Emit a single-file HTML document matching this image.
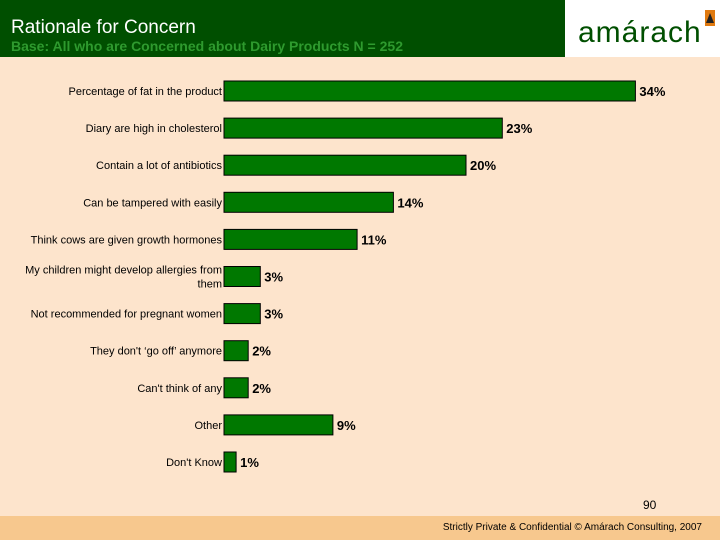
<!DOCTYPE html>
<html><head><meta charset="utf-8"><style>
body{margin:0;width:720px;height:540px;background:#fde4cc;font-family:"Liberation Sans",sans-serif;position:relative;overflow:hidden}
.hdr{position:absolute;left:0;top:0;width:565px;height:57px;background:#004f00}
.logo{position:absolute;left:565px;top:0;width:155px;height:57px;background:#fff}
.foot{position:absolute;left:0;top:516px;width:720px;height:24px;background:#f7c88e}
</style></head><body>
<div class="hdr">
<div style="position:absolute;left:11px;top:17px;color:#fff;font-size:19px">Rationale for Concern</div>
<div style="position:absolute;left:11px;top:38px;color:#2e9a2e;font-size:14px;font-weight:bold">Base: All who are Concerned about Dairy Products N = 252</div>
</div>
<div class="logo">
<div style="position:absolute;left:13px;top:16px;font-size:30px;color:#004f00;letter-spacing:1px">amárach</div>
<div style="position:absolute;left:140px;top:10px;width:10px;height:16px;background:#e07a10"></div>
<div style="position:absolute;left:141px;top:13px;width:0;height:0;border-left:4px solid transparent;border-right:4px solid transparent;border-bottom:10px solid #222"></div>
</div>
<svg id="chart" width="720" height="540" style="position:absolute;left:0;top:0"></svg>
<div style="position:absolute;left:643px;top:498px;font-size:12px">90</div>
<div class="foot">
<div style="position:absolute;right:18px;top:6px;font-size:10px">Strictly Private &amp; Confidential © Amárach Consulting, 2007</div>
</div>
<script>
const categories=[["Percentage of fat in the product"],["Diary are high in cholesterol"],["Contain a lot of antibiotics"],["Can be tampered with easily"],["Think cows are given growth hormones"],["My children might develop allergies from","them"],["Not recommended for pregnant women"],["They don't ‘go off’ anymore"],["Can't think of any"],["Other"],["Don't Know"]];
const values=[34,23,20,14,11,3,3,2,2,9,1];
const NS="http://www.w3.org/2000/svg";
const svg=document.getElementById('chart');
const x0=224, scale=12.1, y0=91, step=37.1, bh=20;
const xScale=v=>x0+v*scale;
const yScale=i=>y0+i*step;
function el(t,a){const e=document.createElementNS(NS,t);for(const k in a)e.setAttribute(k,a[k]);svg.appendChild(e);return e;}
values.forEach((v,i)=>{
 const cy=yScale(i);
 const r=el('rect',{x:x0,y:cy-bh/2,width:xScale(v)-x0,height:bh,fill:'#007800',stroke:'#000','stroke-width':1});
 
 
 const t=el('text',{x:xScale(v)+4,y:cy+5,'font-size':13,'font-weight':'bold','font-family':'Liberation Sans, sans-serif'});
 t.textContent=v+'%';
 
 
 const lines=categories[i];
 lines.forEach((ln,j)=>{
  const c=el('text',{x:x0-2,y:cy+4+(j-(lines.length-1)/2)*14,'font-size':11,'text-anchor':'end','font-family':'Liberation Sans, sans-serif'});
  c.textContent=ln;
  
  
 });
});
</script>
</body></html>
